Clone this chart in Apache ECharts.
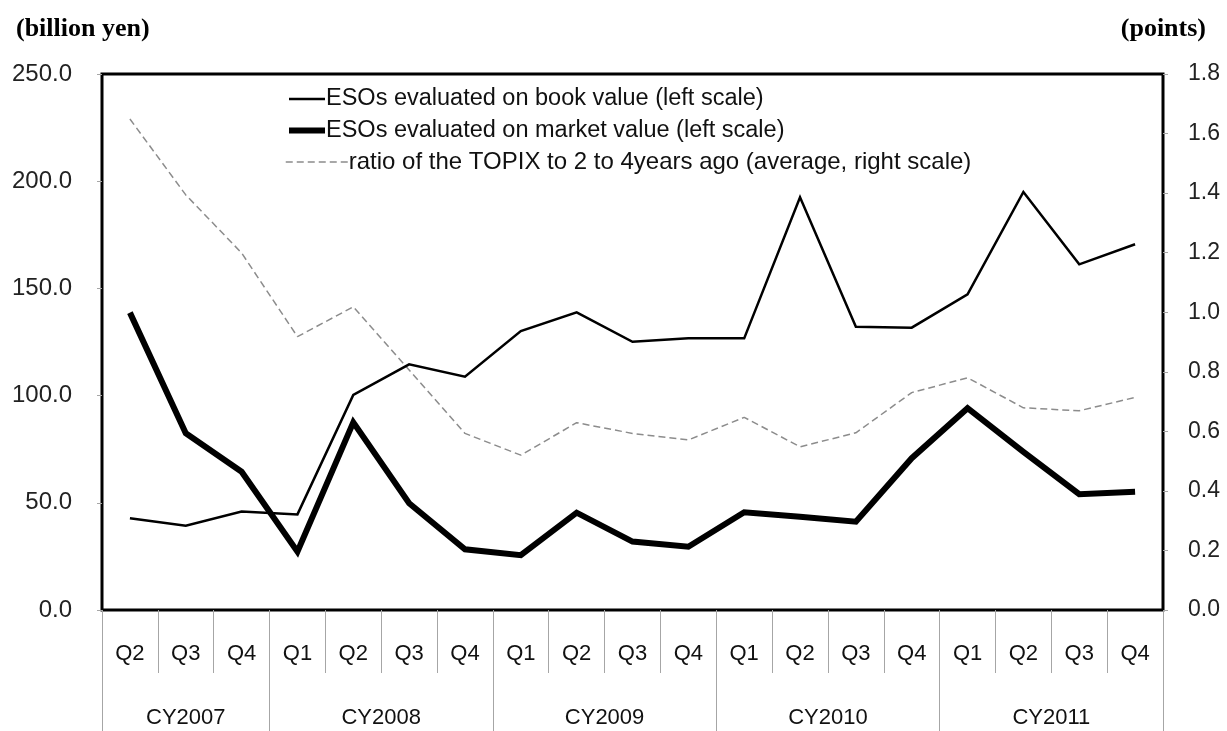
<!DOCTYPE html>
<html>
<head>
<meta charset="utf-8">
<script src="https://cdn.jsdelivr.net/npm/echarts@6/dist/echarts.min.js"></script>
<style>
html,body{margin:0;padding:0;background:#fff;}
#chart{width:1227px;height:731px;}
</style>
</head>
<body>
<div id="chart"></div>
<script>
// ---- data ----
const quarters = ['Q2','Q3','Q4','Q1','Q2','Q3','Q4','Q1','Q2','Q3','Q4','Q1','Q2','Q3','Q4','Q1','Q2','Q3','Q4'];
const years = ['CY2007','CY2008','CY2009','CY2010','CY2011'];
const yearBoundaries = [0, 3, 7, 11, 15, 19];   // quarter index where each year starts
const yearCenters = [1.5, 5, 9, 13, 17];
const bookValue = [42.8, 39.3, 45.9, 44.6, 100.3, 114.6, 108.8, 130.1, 138.8, 125.1, 126.7, 126.7, 192.5, 132.1, 131.7, 147.2, 195.0, 161.2, 170.6];
const marketValue = [138.7, 82.4, 64.5, 27.2, 87.5, 49.8, 28.3, 25.6, 45.4, 31.9, 29.5, 45.6, 43.5, 41.2, 70.8, 94.1, 73.8, 54.0, 55.2];
const topixRatio = [1.649, 1.394, 1.199, 0.918, 1.018, 0.806, 0.593, 0.520, 0.629, 0.593, 0.571, 0.647, 0.548, 0.595, 0.730, 0.780, 0.679, 0.669, 0.714];
const seriesNames = [
  'ESOs evaluated on book value (left scale)',
  'ESOs evaluated on market value (left scale)',
  'ratio of the TOPIX to 2 to 4years ago (average, right scale)'
];

const chart = echarts.init(document.getElementById('chart'), null, {renderer:'canvas'});
const tickFont = "'Liberation Sans', Arial, sans-serif";
const labelFont = "'Liberation Sans', Arial, sans-serif";
const serif = "'Liberation Serif', 'Times New Roman', serif";

const legendText = {fontFamily: labelFont, fontSize: 23.5, color: '#111', padding: [0,0,0,-4]};

chart.setOption({
  animation: false,
  backgroundColor: '#fff',
  title: [
    {text: '(billion yen)', left: 11, top: 11,
     textStyle: {fontFamily: serif, fontWeight: 'bold', fontSize: 26, color: '#000'}},
    {text: '(points)', right: 16, top: 11,
     textStyle: {fontFamily: serif, fontWeight: 'bold', fontSize: 26, color: '#000'}}
  ],
  legend: [
    {
      orient: 'vertical', left: 281, top: 82,
      itemWidth: 36, itemHeight: 14, itemGap: 7.5,
      itemStyle: {opacity: 0},
      textStyle: legendText,
      data: [
        {name: seriesNames[0], lineStyle: {width: 2.5, color: '#000'}},
        {name: seriesNames[1], lineStyle: {width: 6, color: '#000'}}
      ]
    },
    {
      orient: 'vertical', left: 280, top: 145,
      itemWidth: 62, itemHeight: 14,
      itemStyle: {opacity: 0},
      textStyle: Object.assign({}, legendText, {fontSize: 24}),
      data: [
        {name: seriesNames[2], lineStyle: {width: 1.5, color: '#8c8c8c', type: [7, 4]}}
      ]
    }
  ],
  grid: {left: 102, right: 64, top: 74, bottom: 121, show: true, borderColor: '#000', borderWidth: 3, backgroundColor: 'transparent'},
  xAxis: [
    {
      type: 'category', data: quarters, position: 'bottom', boundaryGap: true,
      axisLine: {show: false},
      axisTick: {show: true, interval: 0, length: 63, lineStyle: {color: '#a6a6a6', width: 1}},
      axisLabel: {interval: 0, margin: 33, fontFamily: labelFont, fontSize: 22, color: '#111'}
    },
    {
      type: 'value', min: 0, max: 19, position: 'bottom',
      axisLine: {show: false},
      splitLine: {show: false},
      axisTick: {show: true, customValues: yearBoundaries, length: 125, lineStyle: {color: '#a6a6a6', width: 1}},
      axisLabel: {customValues: yearCenters, margin: 97, fontFamily: labelFont, fontSize: 22, color: '#111',
        formatter: function(v){ const i = yearCenters.indexOf(v); return i >= 0 ? years[i] : ''; }}
    }
  ],
  yAxis: [
    {
      type: 'value', min: 0, max: 250, interval: 50, position: 'left',
      axisLine: {show: false},
      axisTick: {show: true, length: 5, lineStyle: {color: '#a6a6a6'}},
      splitLine: {show: false},
      axisLabel: {margin: 30, fontFamily: tickFont, fontSize: 24, color: '#222', formatter: v => v.toFixed(1)}
    },
    {
      type: 'value', min: 0, max: 1.8, interval: 0.2, position: 'right',
      axisLine: {show: false},
      axisTick: {show: true, length: 5, lineStyle: {color: '#a6a6a6'}},
      splitLine: {show: false},
      axisLabel: {margin: 25, fontFamily: tickFont, fontSize: 23, color: '#222', formatter: v => v.toFixed(1)}
    }
  ],
  series: [
    {name: seriesNames[0], type: 'line', xAxisIndex: 0, yAxisIndex: 0, data: bookValue, symbol: 'none',
     lineStyle: {color: '#000', width: 2.5, join: 'miter'}, itemStyle: {color: '#000'}, z: 3},
    {name: seriesNames[1], type: 'line', xAxisIndex: 0, yAxisIndex: 0, data: marketValue, symbol: 'none',
     lineStyle: {color: '#000', width: 6, join: 'miter'}, itemStyle: {color: '#000'}, z: 4},
    {name: seriesNames[2], type: 'line', xAxisIndex: 0, yAxisIndex: 1, data: topixRatio, symbol: 'none',
     lineStyle: {color: '#8c8c8c', width: 1.5, type: [7, 4]}, itemStyle: {color: '#8c8c8c'}, z: 2}
  ]
});
</script>
</body>
</html>
